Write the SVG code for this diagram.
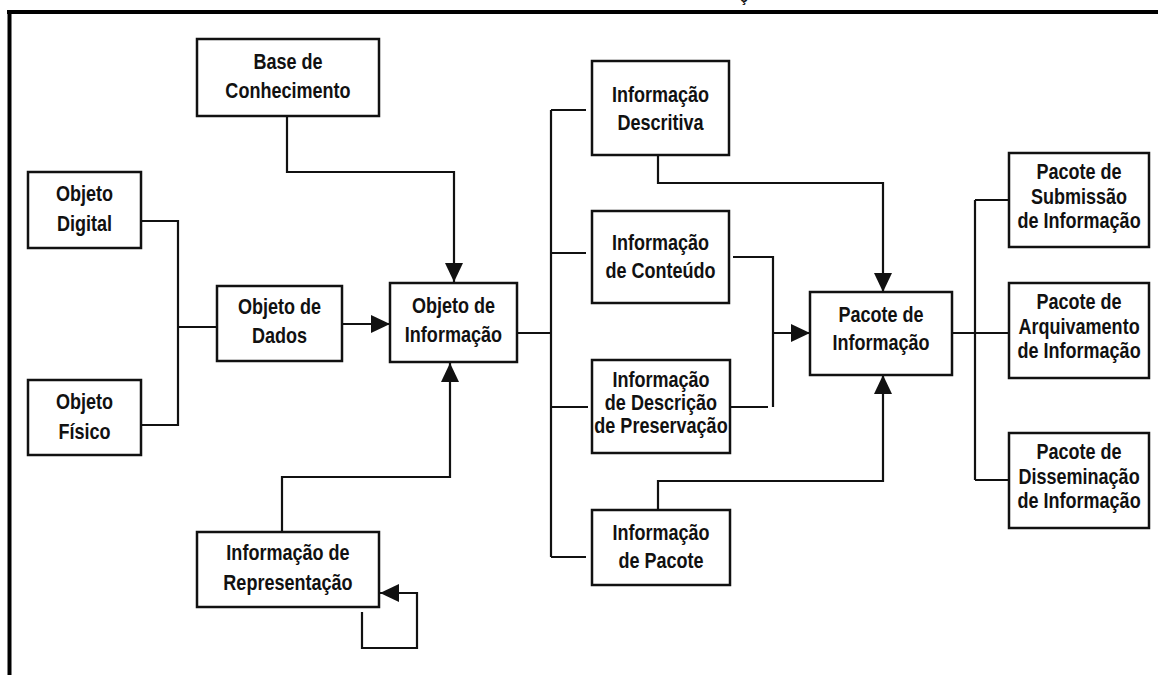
<svg xmlns="http://www.w3.org/2000/svg" width="1158" height="675" viewBox="0 0 1158 675">
<style>
.box{fill:#fff;stroke:#111;stroke-width:2.5}
.t{font-family:"Liberation Sans",Arial,sans-serif;font-weight:bold;font-size:22px;fill:#111;text-anchor:middle}
.c{fill:none;stroke:#111;stroke-width:2.2}
.a{marker-end:url(#ah)}
.frame{stroke:#000;stroke-width:4;fill:none}
</style>
<defs>
<marker id="ah" markerUnits="userSpaceOnUse" markerWidth="20" markerHeight="20" viewBox="0 0 20 20" refX="19" refY="10" orient="auto">
<path d="M0,1 L19,10 L0,19 z" fill="#111"/>
</marker>
</defs>
<rect width="1158" height="675" fill="#fff"/>
<text x="744" y="2" class="t" style="font-size:14px">ç</text>
<g id="frame">
<path class="frame" d="M7,12 H1158 M9.5,12 V675"/>
</g>
<g id="connectors">
<path class="c a" d="M287,116 V172 H454 V282"/>
<path class="c" d="M141,221 H178 V425 H141 M178,327 H217"/>
<path class="c a" d="M342,324 H390"/>
<path class="c a" d="M282,532 V477 H450 V363"/>
<path class="c a" d="M362,612 V648 H417 V593 H380"/>
<path class="c" d="M517,333 H551 M551,110 V557 M551,110 H586 M551,253 H586 M551,407 H588 M551,557 H586"/>
<path class="c a" d="M658,155 V183 H883 V292"/>
<path class="c" d="M733,257 H773 V407 M731,407 H768"/>
<path class="c a" d="M773,333 H810"/>
<path class="c a" d="M658,510 V481 H883 V375"/>
<path class="c" d="M952,333 H1009 M975,200 V480 M975,200 H1009 M975,480 H1009"/>
</g>
<g id="base"><rect class="box" x="197" y="39" width="182" height="77"/><g transform="scale(0.82 1)"><text class="t" x="351.2" y="69">Base de</text><text class="t" x="351.2" y="98">Conhecimento</text></g></g>
<g id="digital"><rect class="box" x="28" y="172" width="113" height="76"/><g transform="scale(0.82 1)"><text class="t" x="103" y="201">Objeto</text><text class="t" x="103" y="231">Digital</text></g></g>
<g id="fisico"><rect class="box" x="28" y="380" width="113" height="75"/><g transform="scale(0.82 1)"><text class="t" x="103" y="409">Objeto</text><text class="t" x="103" y="439">Físico</text></g></g>
<g id="dados"><rect class="box" x="217" y="286" width="125" height="75"/><g transform="scale(0.82 1)"><text class="t" x="340.9" y="314">Objeto de</text><text class="t" x="340.9" y="343">Dados</text></g></g>
<g id="objinfo"><rect class="box" x="390" y="283" width="127" height="79"/><g transform="scale(0.82 1)"><text class="t" x="553" y="313">Objeto de</text><text class="t" x="553" y="342">Informação</text></g></g>
<g id="rep"><rect class="box" x="197" y="532" width="182" height="75"/><g transform="scale(0.82 1)"><text class="t" x="351.2" y="560">Informação de</text><text class="t" x="351.2" y="590">Representação</text></g></g>
<g id="desc"><rect class="box" x="592" y="61" width="137" height="94"/><g transform="scale(0.82 1)"><text class="t" x="805.5" y="102">Informação</text><text class="t" x="805.5" y="130">Descritiva</text></g></g>
<g id="cont"><rect class="box" x="592" y="211" width="137" height="92"/><g transform="scale(0.82 1)"><text class="t" x="805.5" y="250">Informação</text><text class="t" x="805.5" y="278">de Conteúdo</text></g></g>
<g id="pres"><rect class="box" x="592" y="360" width="138" height="93"/><g transform="scale(0.82 1)"><text class="t" x="806.1" y="387">Informação</text><text class="t" x="806.1" y="410">de Descrição</text><text class="t" x="806.1" y="433">de Preservação</text></g></g>
<g id="pacote"><rect class="box" x="592" y="510" width="138" height="75"/><g transform="scale(0.82 1)"><text class="t" x="806.1" y="540">Informação</text><text class="t" x="806.1" y="568">de Pacote</text></g></g>
<g id="pacinfo"><rect class="box" x="810" y="292" width="142" height="83"/><g transform="scale(0.82 1)"><text class="t" x="1074.4" y="322">Pacote de</text><text class="t" x="1074.4" y="350">Informação</text></g></g>
<g id="sub"><rect class="box" x="1009" y="153" width="140" height="94"/><g transform="scale(0.82 1)"><text class="t" x="1315.9" y="179">Pacote de</text><text class="t" x="1315.9" y="204">Submissão</text><text class="t" x="1315.9" y="228">de Informação</text></g></g>
<g id="arq"><rect class="box" x="1009" y="283" width="140" height="95"/><g transform="scale(0.82 1)"><text class="t" x="1315.9" y="309">Pacote de</text><text class="t" x="1315.9" y="334">Arquivamento</text><text class="t" x="1315.9" y="358">de Informação</text></g></g>
<g id="dis"><rect class="box" x="1009" y="433" width="140" height="95"/><g transform="scale(0.82 1)"><text class="t" x="1315.9" y="459">Pacote de</text><text class="t" x="1315.9" y="484">Disseminação</text><text class="t" x="1315.9" y="508">de Informação</text></g></g>
</svg>
